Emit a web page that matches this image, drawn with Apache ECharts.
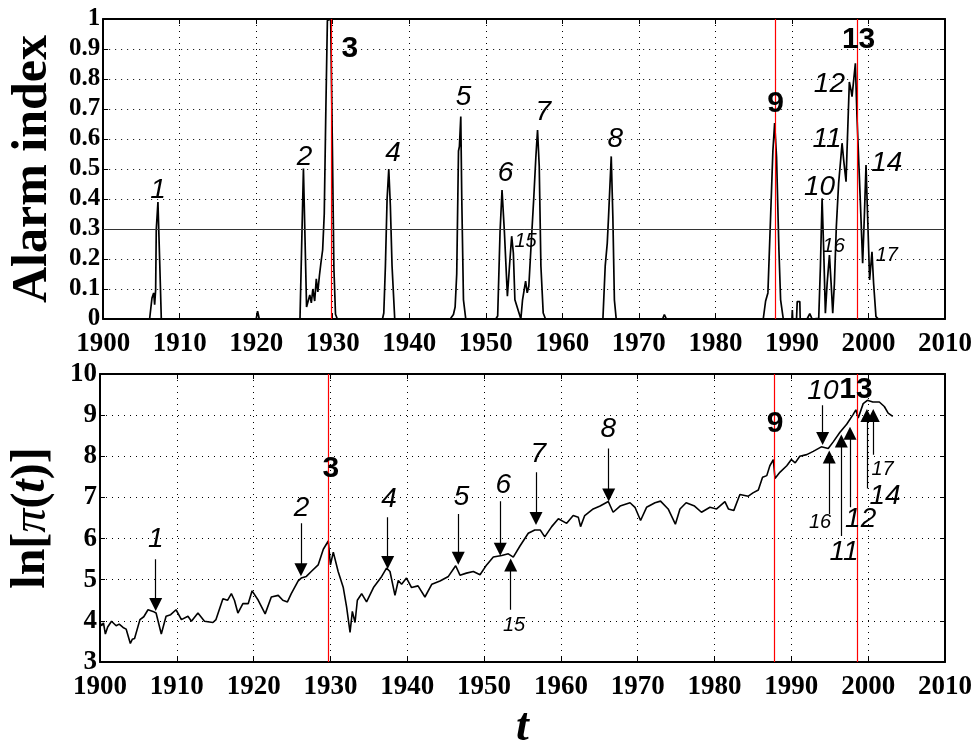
<!DOCTYPE html>
<html><head><meta charset="utf-8">
<script src="https://cdn.jsdelivr.net/npm/echarts@6/dist/echarts.min.js"></script>
<style>html,body{margin:0;padding:0;background:#fff}#c{width:979px;height:752px}</style>
</head><body><div id="c"></div>
<script>
// ---------- data ----------
const alarmYears = [1900,1906.07,1906.38,1906.6,1906.73,1906.86,1906.94,1907.16,1907.38,1907.6,
 1920.0,1920.18,1920.4,
 1925.72,1926.17,1926.58,1927.0,1927.2,1927.4,1927.64,1927.85,1928.05,1928.26,1928.47,1928.68,1928.89,1929.1,1929.3,1929.73,1929.94,1930.15,1930.36,1930.6,
 1936.5,1936.67,1936.88,1937.1,1937.32,1937.53,1937.75,1938.1,
 1945.35,1945.77,1945.99,1946.2,1946.43,1946.55,1946.73,1946.86,1947.08,1947.38,
 1951.3,1951.55,1951.86,1952.12,1952.43,1952.82,1953.16,1953.38,1953.6,1953.8,1954.58,1954.8,1955.2,1955.41,1955.62,1955.84,1956.28,1956.54,1956.76,1956.98,1957.2,1957.5,1957.8,
 1965.3,1965.6,1965.87,1966.04,1966.39,1966.6,1966.8,1967.04,
 1973.1,1973.33,1973.6,
 1986.25,1986.56,1986.86,1987.21,1987.51,1987.74,1987.99,1988.3,1988.52,1988.87,
 1990.0,1990.05,1990.1,1990.6,1990.69,1991.03,1991.08,1991.98,1992.33,1992.64,
 1993.5,1993.72,1993.94,1994.15,1994.37,1994.6,1994.9,1995.12,1995.33,1995.55,1995.8,1996.1,1996.33,1996.55,1996.76,1996.9,1997.07,1997.2,1997.5,1997.72,1997.85,1998.07,1998.29,1998.5,1998.93,1999.24,1999.46,1999.68,1999.89,2000.15,2000.46,2000.67,2000.98,2001.3,2003.3];
const alarmValues = [0,0,0.07,0.087,0.048,0.098,0.298,0.39,0.2,0,
 0,0.026,0,
 0,0.502,0.04,0.08,0.054,0.10,0.06,0.134,0.09,0.145,0.19,0.23,0.35,0.70,0.995,1.0,0.6,0.17,0.016,0,
 0,0.02,0.176,0.40,0.50,0.376,0.176,0,
 0,0.015,0.04,0.15,0.56,0.575,0.675,0.40,0.064,0,
 0,0.01,0.29,0.43,0.29,0.076,0.2,0.276,0.22,0.064,0,0.064,0.126,0.087,0.109,0.21,0.41,0.54,0.63,0.51,0.176,0.02,0,
 0,0.176,0.253,0.342,0.542,0.342,0.064,0,
 0,0.015,0,
 0,0.06,0.087,0.34,0.56,0.653,0.54,0.23,0.064,0,
 0,0.03,0,0,0.058,0.058,0,0,0.018,0,
 0.002,0.174,0.402,0.23,0.019,0.119,0.213,0.119,0.019,0.119,0.308,0.452,0.519,0.586,0.53,0.497,0.458,0.563,0.79,0.763,0.741,0.797,0.852,0.674,0.397,0.186,0.341,0.513,0.341,0.13,0.224,0.119,0.008,0,0];

const priceYears = [1900.0,1900.2,1900.45,1900.7,1901.0,1901.5,1902.1,1902.5,1903.0,1903.4,1903.95,1904.2,1904.5,1905.2,1905.7,1906.25,1906.9,1907.3,1907.98,1908.6,1909.2,1909.9,
 1910.6,1911.45,1911.9,1912.75,1913.6,1914.7,1915.1,1916.0,1916.6,1917.1,1917.5,1917.95,1918.6,1919.3,1919.8,
 1920.6,1921.5,1922.3,1923.2,1923.8,1924.4,1924.9,1925.8,1926.2,1926.86,1927.5,1928.4,1928.64,1929.07,1929.72,
 1930.0,1930.37,1931.0,1931.67,1932.1,1932.55,1932.85,1933.2,1933.5,1934.06,1934.7,1935.6,1936.67,1937.3,1937.75,1938.4,1938.83,1939.26,1939.9,
 1940.56,1941.4,1942.3,1943.2,1944.26,1945.35,1946.3,1946.86,1947.7,1948.6,1949.47,
 1950.33,1951.2,1952.3,1953.15,1953.8,1954.67,1955.75,1956.6,1957.3,1957.9,1958.8,1959.67,
 1960.75,1961.6,1962.26,1962.56,1963.1,1964.2,1965.1,1966.17,1966.8,1967.7,1969.0,1969.64,
 1970.37,1971.15,1972.25,1972.97,1973.96,1974.9,1975.5,1976.3,1977.4,1978.3,1979.4,
 1980.27,1981.35,1981.8,1982.5,1983.3,1984.4,1985.0,1985.7,1986.25,1986.8,1987.2,1987.65,1987.87,1988.5,1989.4,
 1990.0,1990.5,1991.1,1992.0,1992.85,1993.9,1994.8,1995.45,1996.3,1997.2,1998.05,1998.4,1998.7,1999.35,1999.9,
 2000.6,2001.45,2002.1,2002.6,2003.2];
const priceValues = [3.97,3.88,3.95,3.68,3.85,3.99,3.88,3.92,3.84,3.80,3.45,3.55,3.57,4.03,4.10,4.27,4.23,4.19,3.68,4.11,4.15,4.27,
 4.03,4.11,3.99,4.19,3.99,3.96,4.03,4.54,4.50,4.66,4.50,4.19,4.42,4.42,4.73,
 4.50,4.17,4.58,4.62,4.50,4.46,4.66,4.97,5.04,5.08,5.20,5.36,5.32,5.74,5.94,
 5.36,5.67,5.20,4.81,4.34,3.72,4.23,3.96,4.50,4.66,4.46,4.81,5.08,5.28,5.20,4.62,4.98,4.89,5.04,
 4.81,4.85,4.58,4.89,4.97,5.08,5.34,5.11,5.16,5.20,5.12,
 5.36,5.55,5.59,5.63,5.55,5.82,6.13,6.21,6.21,6.04,6.29,6.48,
 6.37,6.56,6.52,6.29,6.56,6.72,6.79,6.90,6.64,6.79,6.87,6.76,
 6.44,6.76,6.87,6.91,6.72,6.35,6.72,6.87,6.79,6.64,6.76,
 6.72,6.90,6.72,6.68,7.07,7.03,7.11,7.18,7.49,7.53,7.77,7.92,7.46,7.61,7.77,
 7.92,7.84,8.0,8.04,8.12,8.23,8.19,8.35,8.58,8.78,9.02,9.13,8.93,9.28,9.36,
 9.32,9.32,9.21,9.05,8.97];

const xTicks = {min:1900, max:2010, step:10};
const alarmTicks = {min:0, max:1, step:0.1};
const priceTicks = {min:3, max:10, step:1};
const alarmThreshold = 0.3;
const crashYears = [1929.76, 1987.78, 1998.53];

// event labels in data units: [year, value, text]
const topEvents = [[1907.16,0.43,'1'],[1926.3,0.54,'2'],[1932.24,0.9,'3'],[1937.88,0.553,'4'],[1947.08,0.74,'5'],
 [1952.59,0.487,'6'],[1957.5,0.69,'7'],[1966.91,0.6,'8'],[1987.87,0.717,'9'],[1993.6,0.44,'10'],[1994.6,0.6,'11'],
 [1994.9,0.783,'12'],[1998.71,0.93,'13'],[2002.4,0.52,'14'],[1955.19,0.257,'15'],[1995.46,0.243,'16'],[2002.4,0.213,'17']];
const bottomEvents = [[1907.25,5.99,'1'],[1926.24,6.74,'2'],[1930.05,7.70,'3'],[1937.62,6.95,'4'],[1947.08,7.0,'5'],
 [1952.5,7.3,'6'],[1957.06,8.05,'7'],[1966.16,8.66,'8'],[1987.87,8.78,'9'],[1994.11,9.57,'10'],[1996.85,5.67,'11'],
 [1999.02,6.46,'12'],[1998.41,9.61,'13'],[2002.19,7.03,'14'],[1953.9,3.89,'15'],[1993.73,6.38,'16'],[2001.88,7.69,'17']];
// arrows in data units: [year, fromValue, toValue]
const bottomArrows = [[1907.25,5.50,4.40],[1926.16,6.37,5.24],[1937.45,6.52,5.42],[1946.64,6.60,5.52],[1952.1,6.91,5.74],
 [1956.76,7.61,6.49],[1966.22,8.19,7.06],[1953.46,4.27,5.36],[1994.07,9.24,8.43],[1994.93,6.60,7.98],[1996.5,6.06,8.37],
 [1997.63,6.76,8.56],[1999.84,7.22,8.99],[2000.66,8.04,8.99]];

// ---------- chart ----------
const serif = 'Liberation Serif';
const sans = 'Liberation Sans';
const boldSet = ['3','9','13'];
const smallSet = ['15','16','17'];
function labelStyle(t){
  if (boldSet.includes(t)) return {fontFamily:sans, fontWeight:'bold', fontStyle:'normal', fontSize:30};
  if (smallSet.includes(t)) return {fontFamily:sans, fontStyle:'italic', fontSize:20};
  return {fontFamily:sans, fontStyle:'italic', fontSize:28};
}
function eventData(list){
  return list.map(e => ({value:[e[0],e[1]], name:e[2],
    label:Object.assign({show:true, position:'inside', color:'#000', opacity:1, formatter:e[2]}, labelStyle(e[2]))}));
}
const dotted = {show:true, lineStyle:{color:'#000', width:1, type:[1,5]}};
function xAx(grid, labels, extra){
  return Object.assign({type:'value', gridIndex:grid, min:xTicks.min, max:xTicks.max, interval:xTicks.step,
    axisLine:{onZero:false, lineStyle:{color:'#000', width:2}},
    axisTick:{show:true, inside:true, length:5, lineStyle:{color:'#000', width:1}},
    axisLabel:{show:labels, showMinLabel:true, showMaxLabel:true, color:'#000', fontFamily:serif, fontWeight:'bold', fontSize:27, margin:12,
      formatter: v => String(v)},
    splitLine: labels ? dotted : {show:false}}, extra||{});
}
function yAx(grid, t, labels, extra){
  return Object.assign({type:'value', gridIndex:grid, min:t.min, max:t.max, interval:t.step,
    axisLine:{show:true, onZero:false, lineStyle:{color:'#000', width:2}},
    axisTick:{show:true, inside:true, length:5, lineStyle:{color:'#000', width:1}},
    axisLabel:{show:labels, showMinLabel:true, showMaxLabel:true, color:'#000', fontFamily:serif, fontWeight:'bold', fontSize:labels && grid===0 ? 25 : 27, margin:3},
    splitLine: labels ? dotted : {show:false}}, extra||{});
}

const option = {
  animation:false,
  backgroundColor:'#fff',
  grid:[{left:100, top:19, width:845, height:300}, {left:100, top:374, width:845, height:300}],
  xAxis:[
    xAx(0,true),
    xAx(0,false,{position:'top'}),
    xAx(1,true,{name:'t', nameLocation:'middle', nameGap:43,
      nameTextStyle:{fontFamily:serif, fontStyle:'italic', fontWeight:'bold', fontSize:46, color:'#000'}}),
    xAx(1,false,{position:'top'})
  ],
  yAxis:[
    yAx(0,alarmTicks,true,{name:'Alarm index', nameLocation:'middle', nameRotate:90, nameGap:42,
      nameTextStyle:{fontFamily:serif, fontWeight:'bold', fontSize:50, color:'#000'}}),
    yAx(0,alarmTicks,false,{position:'right'}),
    yAx(1,priceTicks,true,{name:'{b|ln[}{i|π}{b|(}{t|t}{b|)]}', nameLocation:'middle', nameRotate:90, nameGap:44,
      nameTextStyle:{color:'#000', rich:{
        b:{fontFamily:serif, fontWeight:'bold', fontSize:48, color:'#000'},
        i:{fontFamily:serif, fontStyle:'italic', fontSize:48, color:'#000'},
        t:{fontFamily:serif, fontStyle:'italic', fontWeight:'bold', fontSize:48, color:'#000'}}}}),
    yAx(1,priceTicks,false,{position:'right'})
  ],
  series:[
    {type:'line', xAxisIndex:0, yAxisIndex:0, showSymbol:false, symbol:'none',
      data: alarmYears.map((y,i)=>[y, alarmValues[i]]),
      lineStyle:{color:'#000', width:1.7}, z:5,
      markLine:{silent:true, symbol:['none','none'], label:{show:false}, animation:false, z:6,
        data:[{yAxis:alarmThreshold, lineStyle:{color:'#333', width:1, type:'solid', opacity:1}}]
          .concat(crashYears.map(y=>({xAxis:y, lineStyle:{color:'#ff0000', width:1.2, type:'solid', opacity:1}})))}},
    {type:'line', xAxisIndex:2, yAxisIndex:2, showSymbol:false, symbol:'none',
      data: priceYears.map((y,i)=>[y, priceValues[i]]),
      lineStyle:{color:'#000', width:1.6}, z:5,
      markLine:{silent:true, symbol:['none','none'], label:{show:false}, animation:false, z:6,
        data: crashYears.map(y=>({xAxis:y, lineStyle:{color:'#ff0000', width:1.2, type:'solid', opacity:1}}))}},
    {type:'scatter', xAxisIndex:0, yAxisIndex:0, symbolSize:1, itemStyle:{color:'transparent', opacity:1}, z:10,
      data:eventData(topEvents)},
    {type:'scatter', xAxisIndex:2, yAxisIndex:2, symbolSize:1, itemStyle:{color:'transparent', opacity:1}, z:10,
      data:eventData(bottomEvents)},
    {type:'lines', coordinateSystem:'cartesian2d', xAxisIndex:2, yAxisIndex:2, z:8,
      symbol:['none','triangle'], symbolSize:[8,13],
      lineStyle:{color:'#000', width:1.2, opacity:1, curveness:0},
      data: bottomArrows.map(a => ({coords:[[a[0],a[1]],[a[0],a[2]]]}))}
  ]
};
const chart = echarts.init(document.getElementById('c'), null, {renderer:'canvas'});
chart.setOption(option);
</script></body></html>
